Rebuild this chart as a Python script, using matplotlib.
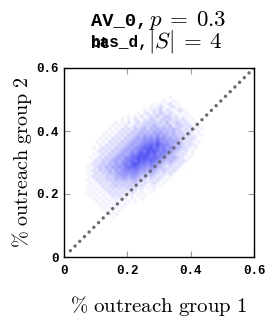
import numpy as np
import matplotlib
matplotlib.use('Agg')
import matplotlib.pyplot as plt
from matplotlib.colors import LinearSegmentedColormap

plt.rcParams['mathtext.fontset'] = 'cm'

# density of outreach pairs, 0.01 bins; rows from y=0.51 (top) down to y=0.11,
# columns from x=0.06 to x=0.46
x_edges = (0.06, 0.46)
y_edges = (0.11, 0.51)
density_rows = [
    "0000000000000000000000000001000000000000",
    "0000000000000000000000000100100000000000",
    "0000000000000000000000101012010000000000",
    "0000000000000000000001012101201000000000",
    "0000000000000000000101213021012100000000",
    "0000000000000000010120213212101010000000",
    "0000000000000010102012131232120101000000",
    "0000000000001010210213212323121210100000",
    "0000000000101020121232323141232121010000",
    "0000000001010201212323432324123212101000",
    "0000000010102121323424343433432121210100",
    "0000000101021213234343545343423212101000",
    "0000001010212132343545464543432312110100",
    "0000010102121323454656575645343221210000",
    "0000101021213234545667686564543212101000",
    "0000010212132345456778797665434212110000",
    "0001012121323454667889786756543221010000",
    "0000121213234546578798976765432120100000",
    "0001012132345457689897867654321210100000",
    "0010121323454667898987876543432101000000",
    "0001213234545678798878765434321210000000",
    "0012123243546768987767654323212100000000",
    "0101232435465778876656543212121000000000",
    "0012132343546676765545432321210000000000",
    "0101213243455656654434321212100000000000",
    "0012121323445545543323212101000000000000",
    "0101212232434434432212121010000000000000",
    "0010121213232323321211210100000000000000",
    "0101012122323232212101101000000000000000",
    "0010101212121221211010100000000000000000",
    "0101010121212112101001000000000000000000",
    "0010101012121101010100000000000000000000",
    "0001010101110101001000000000000000000000",
    "0000101010101010100000000000000000000000",
    "0000010101010100000000000000000000000000",
    "0000001010101000000000000000000000000000",
    "0000000101010000000000000000000000000000",
    "0000000010100000000000000000000000000000",
    "0000000001000000000000000000000000000000",
    "0000000000000000000000000000000000000000",
]
density = np.array([[int(c) for c in r.ljust(40, '0')[:40]] for r in density_rows],
                   dtype=float)

ticks = [0, 0.2, 0.4, 0.6]
tick_labels = ['0', '0.2', '0.4', '0.6']
title1_tt, title1_math = 'AV_0,', r'$p\:=\:0.3$'
title2_tt, title2_math = 'bas_d,', r'$|S|\:=\:4$'
title2_over = 'ht'
xlabel = r'$\mathrm{\%\ outreach\ group\ 1}$'
ylabel = r'$\mathrm{\%\ outreach\ group\ 2}$'

W, H = 276, 325
fig = plt.figure(figsize=(W / 100, H / 100), dpi=100)
ax = fig.add_axes([64 / W, 68 / H, 190 / W, 189 / H])

cmap = LinearSegmentedColormap.from_list('wb', ['white', (0.1, 0.1, 0.95)])
ax.imshow(density, extent=(x_edges[0], x_edges[1], y_edges[0], y_edges[1]),
          origin='upper', cmap=cmap, vmin=0, vmax=12, interpolation='bilinear',
          aspect='auto', zorder=1)

ax.plot([0.02, 0.6], [0.02, 0.6], color='0.42', lw=2.5, linestyle=(0, (0.01, 1.9)),
        dash_capstyle='round', zorder=2)

ax.set_xlim(0, 0.6)
ax.set_ylim(0, 0.6)
ax.set_xticks(ticks)
ax.set_yticks(ticks)
tfont = dict(family='Liberation Mono', weight='bold', size=9)
ax.set_xticklabels(tick_labels, fontdict=tfont)
ax.set_yticklabels(tick_labels, fontdict=tfont)
ax.tick_params(axis='x', pad=6)
ax.tick_params(direction='in', top=True, right=True, length=4.5, width=0.8,
               color='0.6')
for s in ax.spines.values():
    s.set_linewidth(1.0)

ax.set_xlabel(xlabel, fontsize=15, labelpad=12)
ax.set_ylabel(ylabel, fontsize=14.5, labelpad=2)

# title: typewriter part then math part, two lines
fig.text(91 / W, 1 - 26 / H, title1_tt, ha='left', va='baseline',
         family='Liberation Mono', weight='bold', size=13.5)
fig.text(149 / W, 1 - 26 / H, title1_math, ha='left', va='baseline', fontsize=16.5)
t2font = dict(family='Liberation Mono', weight='bold', size=11.5)
fig.text(91 / W, 1 - 47.5 / H, title2_tt, ha='left', va='baseline', **t2font)
fig.text(91 / W, 1 - 47.5 / H, title2_over, ha='left', va='baseline', **t2font)
fig.text(148 / W, 1 - 47.5 / H, title2_math, ha='left', va='baseline', fontsize=16.5)

fig.savefig('out.png', dpi=100)
